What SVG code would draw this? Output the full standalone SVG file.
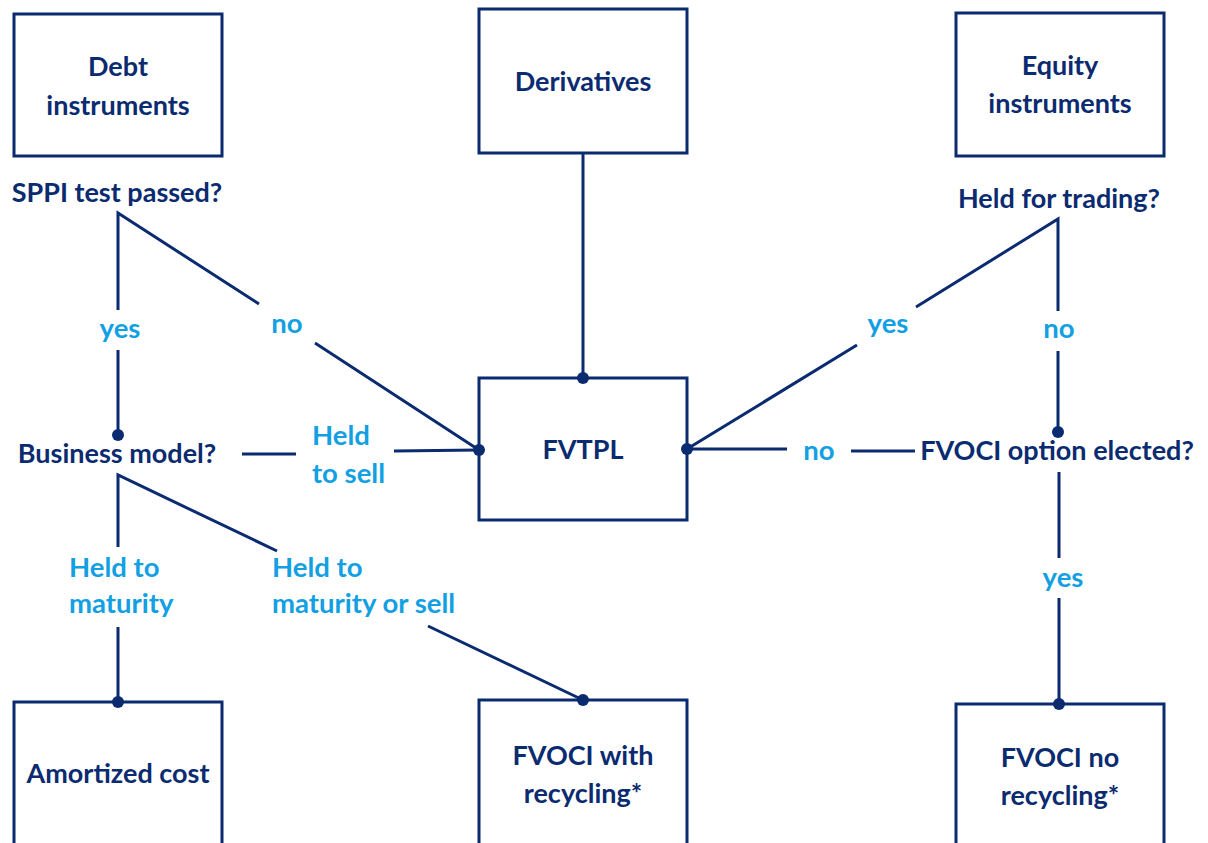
<svg xmlns="http://www.w3.org/2000/svg" width="1208" height="843" viewBox="0 0 1208 843">
<style>
.box{fill:#fff;stroke:#0b2b70;stroke-width:3}
.t{font-family:Lato,"Liberation Sans",sans-serif;font-weight:bold;font-size:27px;fill:#0b2b70;text-anchor:middle}
.l{font-family:Lato,"Liberation Sans",sans-serif;font-weight:bold;font-size:27.5px;fill:#12a0e2}
.m{text-anchor:middle}
.c{stroke:#0b2b70;stroke-width:3;fill:none}
.d{fill:#0b2b70}
</style>
<rect width="1208" height="843" fill="#fff"/>
<g id="debt"><rect class="box" x="14" y="14" width="208" height="142"/><text class="t" x="118" y="76">Debt</text><text class="t" x="118" y="115">instruments</text></g>
<g id="derivatives"><rect class="box" x="479" y="9" width="208" height="144"/><text class="t" x="583" y="91">Derivatives</text></g>
<g id="equity"><rect class="box" x="956" y="13" width="208" height="143"/><text class="t" x="1060" y="75">Equity</text><text class="t" x="1060" y="113">instruments</text></g>
<g id="sppi"><text class="t" x="117" y="202">SPPI test passed?</text></g>
<g id="hft"><text class="t" x="1059" y="208">Held for trading?</text></g>
<g id="business"><text class="t" x="117" y="463">Business model?</text></g>
<g id="fvtpl"><rect class="box" x="479" y="378" width="208" height="142"/><text class="t" x="583" y="459">FVTPL</text></g>
<g id="option"><text class="t" x="1057" y="460">FVOCI option elected?</text></g>
<g id="amortized"><rect class="box" x="14" y="702" width="208" height="160"/><text class="t" x="118" y="783">Amortized cost</text></g>
<g id="fvoci-with"><rect class="box" x="479" y="700" width="208" height="160"/><text class="t" x="583" y="765">FVOCI with</text><text class="t" x="583" y="803">recycling*</text></g>
<g id="fvoci-no"><rect class="box" x="956" y="704" width="208" height="160"/><text class="t" x="1060" y="767">FVOCI no</text><text class="t" x="1060" y="805">recycling*</text></g>
<g id="connectors">
<path class="c" d="M118 310V213L259 304M315 343L479 450"/>
<path class="c" d="M118 350V435"/>
<path class="c" d="M242 454H296M394 451L479 450"/>
<path class="c" d="M118 547V475L277 551M428 626L583 700"/>
<path class="c" d="M118 627V702"/>
<path class="c" d="M583 153V378"/>
<path class="c" d="M1058 311V219L916 307M857 345L687 449"/>
<path class="c" d="M1058 351V432"/>
<path class="c" d="M687 449H787M851 451H915"/>
<path class="c" d="M1059 472V558M1059 598V704"/>
<circle class="d" cx="118" cy="435" r="6"/>
<circle class="d" cx="479" cy="450" r="6"/>
<circle class="d" cx="687" cy="449" r="6"/>
<circle class="d" cx="583" cy="378" r="6"/>
<circle class="d" cx="1058" cy="432" r="6"/>
<circle class="d" cx="118" cy="702" r="6"/>
<circle class="d" cx="583" cy="700" r="6"/>
<circle class="d" cx="1059" cy="704" r="6"/>
</g>
<g id="labels">
<text class="l m" x="120" y="338">yes</text>
<text class="l m" x="287" y="333">no</text>
<text class="l" x="312" y="445">Held</text>
<text class="l" x="312" y="483">to sell</text>
<text class="l" x="69" y="577">Held to</text>
<text class="l" x="69" y="613">maturity</text>
<text class="l" x="272" y="577">Held to</text>
<text class="l" x="272" y="613">maturity or sell</text>
<text class="l m" x="819" y="460">no</text>
<text class="l m" x="888" y="333">yes</text>
<text class="l m" x="1059" y="338">no</text>
<text class="l m" x="1063" y="587">yes</text>
</g>
</svg>
